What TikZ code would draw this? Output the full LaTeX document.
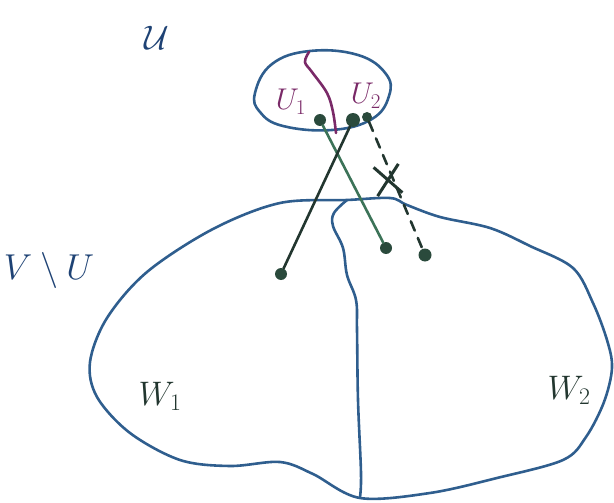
\RequirePackage{fix-cm}
\documentclass[tikz,border=0pt]{standalone}
\usetikzlibrary{shapes.misc}
\definecolor{outl}{HTML}{2F5E8E}
\definecolor{navy}{HTML}{1E4274}
\definecolor{ink}{HTML}{22362F}
\definecolor{gline}{HTML}{3C7358}
\definecolor{purp}{HTML}{7A2A68}
\definecolor{dotc}{HTML}{2A4A3C}
\begin{document}
\begin{tikzpicture}[x=1pt,y=-1pt,
  outline/.style={draw=outl,line width=2.6pt,line join=round},
  vtx/.style={circle,fill=dotc,inner sep=0pt,minimum size=#1},
  vtx/.default=12pt,
  lbl/.style={inner sep=0pt,font=\fontsize{#1}{#1}\selectfont},
  edge/.style={line width=2.6pt,line cap=round}]
\useasboundingbox (0,0) rectangle (614,503);
% small set U
\draw[outline] plot[smooth cycle,tension=0.7] coordinates {(255,93) (272,64) (310,51) (358,55) (386,74) (389,96) (372,119) (332,130) (283,126) (260,112)};
% split of U
\draw[draw=purp,line width=2.6pt,line cap=round] plot[smooth,tension=0.6] coordinates {(309,52) (305,62) (312,72) (327,93) (333,112) (336,133)};
% big set V\U
\draw[outline] plot[smooth cycle,tension=0.55] coordinates {(347,200) (390,198) (407,205) (440,217) (490,228) (530,246) (573,268) (593,303) (607,340) (612,368) (604,402) (586,437) (563,460) (497,478) (430,493) (360,498) (313,474) (280,462) (230,466) (180,460) (130,433) (97,397) (90,362) (107,318) (147,272) (213,229) (280,203)};
\draw[outline] plot[smooth,tension=0.6] coordinates {(347,200) (334,213) (333,226) (343,248) (347,275) (356,300) (357,330) (358,400) (361,473) (360,497)};
% labels
\node[lbl=34,text=navy] (lu) at (157,38) {$\mathcal{U}$};
\node[lbl=36,text=navy] (lvu) at (49,270) {$V\setminus U$};
\node[lbl=30,text=purp] (lu1) at (291,102) {$U_1$};
\node[lbl=30,text=purp] (lu2) at (366,96) {$U_2$};
\node[lbl=34,text=ink] (lw1) at (160,396) {$W_1$};
\node[lbl=34,text=ink] (lw2) at (569,390) {$W_2$};
% vertices
\node[vtx] (a) at (320,120) {};
\node[vtx=14pt] (b) at (353,120) {};
\node[vtx=10pt] (c) at (367,117) {};
\node[vtx] (d) at (281,274) {};
\node[vtx] (e) at (386,248) {};
\node[vtx=13pt] (f) at (425,255) {};
% edges
\draw[edge,draw=gline] (a) -- (e);
\draw[edge,draw=ink] (b) -- (d);
\draw[edge,draw=ink,dash pattern=on 10pt off 8pt] (c) -- (f);
\node[cross out,draw=ink,line width=3pt,minimum width=22pt,minimum height=26pt,rotate=8] (x) at (388,180) {};
\end{tikzpicture}
\end{document}
